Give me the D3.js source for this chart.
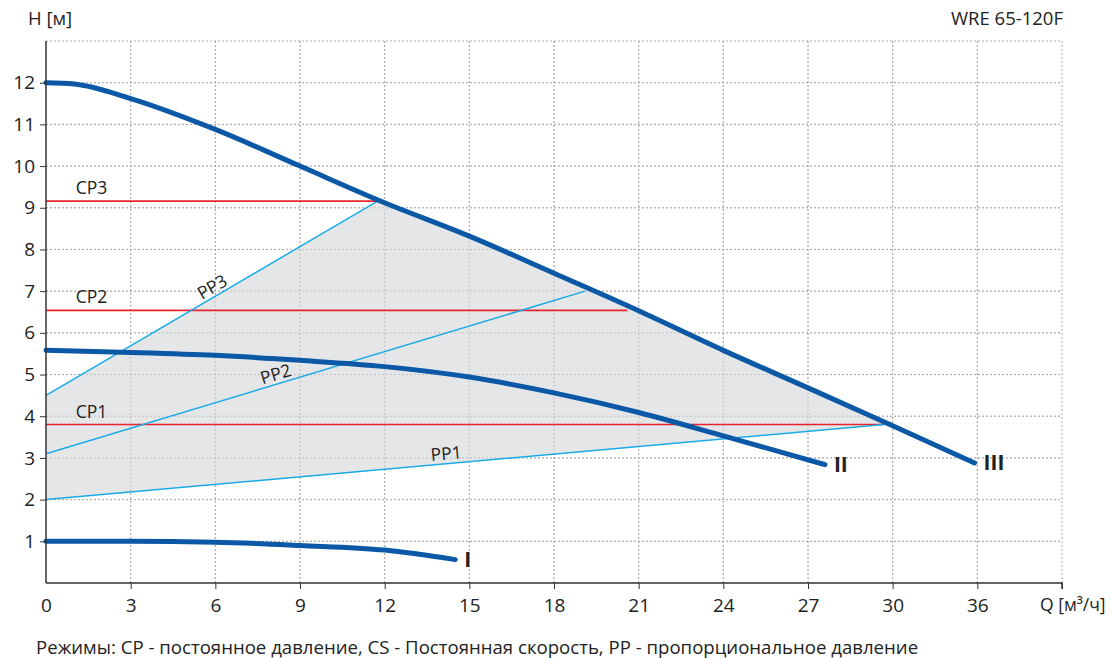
<!DOCTYPE html>
<html><head><meta charset="utf-8">
<script src="https://cdn.jsdelivr.net/npm/d3@7"></script>
<style>
body{margin:0;background:#fff;}
svg text{font-family:"Open Sans","Noto Sans",sans-serif;fill:#222;}
</style></head>
<body><svg id="c" width="1112" height="658"></svg>
<script>
// ---- data ----
const xTickValues = [0,3,6,9,12,15,18,21,24,27,30,33];
const xTickLabels = ["0","3","6","9","12","15","18","21","24","27","30","36"];
const yTickValues = [1,2,3,4,5,6,7,8,9,10,11,12];
const curveIII = [[0,12],[1,11.97],[3,11.62],[6,10.88],[9,10.0],[12,9.12],[15,8.32],[18,7.43],[21,6.53],[24,5.58],[27,4.68],[30,3.77],[32.9,2.88]];
const curveII  = [[0,5.58],[3,5.53],[6,5.46],[9,5.34],[12,5.19],[15,4.94],[18,4.56],[21,4.09],[24,3.53],[27.6,2.84]];
const curveI   = [[0,1.0],[3,1.0],[6,0.98],[9,0.9],[12,0.79],[14.5,0.56]];
const cpNames  = ["CP1","CP2","CP3"];
const cpHeads  = [3.8,6.54,9.16];
const cpEnds   = [29.7,20.6,11.75];
const ppNames  = ["PP1","PP2","PP3"];
const ppStart  = [2.0,3.1,4.5];
const ppEndQ   = [29.7,19.1,11.75];
const ppEndH   = [3.8,7.0,9.16];
const shadeArea = [[0,2.0],[0,4.5],[11.75,9.16],[12,9.12],[15,8.32],[18,7.43],[21,6.53],[24,5.58],[27,4.68],[29.7,3.8]];
const curveNames = ["I","II","III"];

// ---- layout ----
const svg = d3.select("#c");
const L=46, R=1062, T=41, B=583;
const x = d3.scaleLinear().domain([0,36]).range([L,R]);
const y = d3.scaleLinear().domain([0,13]).range([B,T]);

// grid
const g = svg.append("g");
g.selectAll(".gx").data(xTickValues.filter(v=>v>0).concat([36])).enter().append("line")
  .attr("x1",d=>x(d)).attr("x2",d=>x(d)).attr("y1",T).attr("y2",B)
  .attr("stroke","#aaa").attr("stroke-dasharray","2,2").attr("stroke-width",1);
g.selectAll(".gy").data(yTickValues.concat([13])).enter().append("line")
  .attr("x1",L).attr("x2",R).attr("y1",d=>y(d)).attr("y2",d=>y(d))
  .attr("stroke","#aaa").attr("stroke-dasharray","2,2").attr("stroke-width",1);

// shaded region
const line = d3.line().x(d=>x(d[0])).y(d=>y(d[1]));
svg.append("path").attr("d",line(shadeArea)+"Z").attr("fill","#e5e6e8");
svg.append("g").selectAll("line").data(yTickValues).enter().append("line")
  .attr("x1",L).attr("x2",R).attr("y1",d=>y(d)).attr("y2",d=>y(d))
  .attr("stroke","#aaa").attr("stroke-dasharray","2,2").attr("stroke-width",1).attr("opacity",0.6);
svg.append("g").selectAll("line").data(xTickValues.filter(v=>v>0)).enter().append("line")
  .attr("x1",d=>x(d)).attr("x2",d=>x(d)).attr("y1",T).attr("y2",B)
  .attr("stroke","#aaa").attr("stroke-dasharray","2,2").attr("stroke-width",1).attr("opacity",0.6);

// CP lines
cpNames.forEach((n,i)=>{
  svg.append("line").attr("x1",x(0)).attr("x2",x(cpEnds[i])).attr("y1",y(cpHeads[i])).attr("y2",y(cpHeads[i]))
    .attr("stroke","#e8232b").attr("stroke-width",1.6);
  svg.append("text").attr("x",x(1.05)).attr("y",y(cpHeads[i])-7).attr("font-size",17.5).text(n);
});
// PP lines
const ppLabelQ=[14.2,8.2,6.0];
ppNames.forEach((n,i)=>{
  svg.append("line").attr("x1",x(0)).attr("x2",x(ppEndQ[i])).attr("y1",y(ppStart[i])).attr("y2",y(ppEndH[i]))
    .attr("stroke","#1aaae6").attr("stroke-width",1.5);
  const q=ppLabelQ[i];
  const h=ppStart[i]+(ppEndH[i]-ppStart[i])*q/ppEndQ[i];
  const ang=Math.atan2(y(ppEndH[i])-y(ppStart[i]), x(ppEndQ[i])-x(0))*180/Math.PI;
  svg.append("text").attr("transform",`translate(${x(q)},${y(h)-4}) rotate(${ang})`)
    .attr("text-anchor","middle").attr("font-size",17.5).text(n);
});

// pump curves
const smooth = d3.line().curve(d3.curveMonotoneX).x(d=>x(d[0])).y(d=>y(d[1]));
[curveI,curveII,curveIII].forEach((c,i)=>{
  svg.append("path").attr("d",smooth(c)).attr("fill","none").attr("stroke","#0b58a6")
    .attr("stroke-width",5).attr("stroke-linecap","round");
  const e=c[c.length-1];
  svg.append("text").attr("x",x(e[0])+9).attr("y",y(e[1])+7).attr("font-size",21)
    .attr("font-weight","bold").text(curveNames[i]);
});

// axes
const xa = d3.axisBottom(x).tickValues(xTickValues.concat([36])).tickSize(6)
  .tickFormat((d,i)=> i<xTickLabels.length ? xTickLabels[i] : "");
const xg = svg.append("g").attr("transform",`translate(0,${B})`).call(xa);
xg.select(".domain").attr("stroke","#333").attr("stroke-width",1.5).attr("d",`M${L},0H${R}V6`);
xg.selectAll(".tick line").attr("stroke","#333");
xg.selectAll(".tick text").attr("font-size",19).attr("dy","1.05em").attr("fill","#222");
xg.selectAll(".tick").filter(d=>d===0).select("line").remove();
const ya = d3.axisLeft(y).tickValues(yTickValues).tickSize(6);
const yg = svg.append("g").attr("transform",`translate(${L},0)`).call(ya);
yg.select(".domain").attr("stroke","#333").attr("stroke-width",1.5).attr("d",`M0,${T}V${B}`);
yg.selectAll(".tick line").attr("stroke","#333");
yg.selectAll(".tick text").attr("font-size",19).attr("x",-11).attr("fill","#222");
svg.selectAll(".tick text").style("font-family","'Open Sans','Noto Sans',sans-serif");

// titles
svg.append("text").attr("x",28).attr("y",25).attr("font-size",18.5).text("H [м]");
svg.append("text").attr("x",1063).attr("y",25).attr("text-anchor","end").attr("font-size",18.5).text("WRE 65-120F");
svg.append("text").attr("x",1040).attr("y",611).attr("font-size",17.5).text("Q [м³/ч]");
svg.append("text").attr("x",36).attr("y",654).attr("font-size",18.6)
  .text("Режимы: CP - постоянное давление, CS - Постоянная скорость, PP - пропорциональное давление");
</script></body></html>
